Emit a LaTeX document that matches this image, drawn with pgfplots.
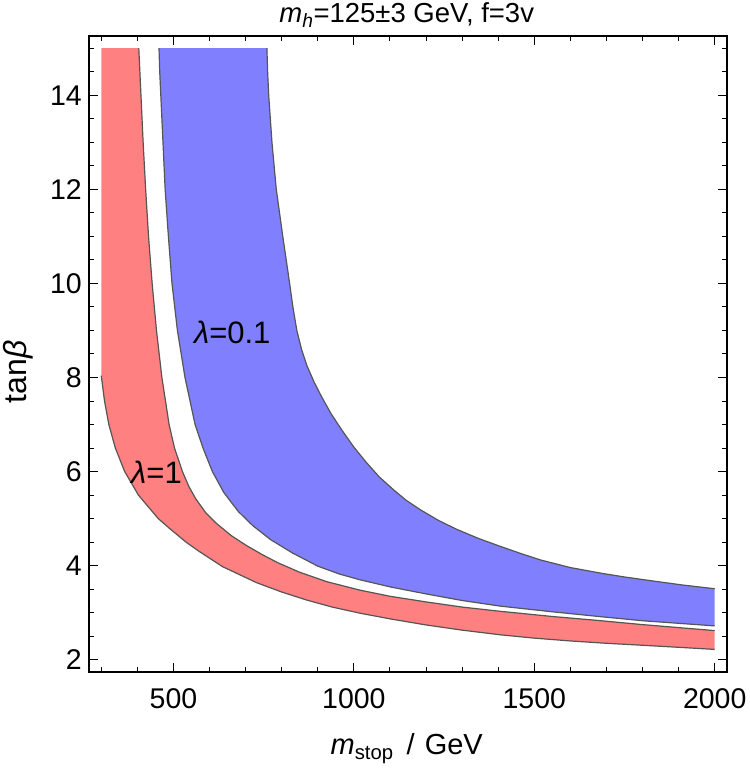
\documentclass[border=0pt]{standalone}
\usepackage{fontspec}
\setmainfont{Liberation Sans}
\usepackage{pgfplots}
\pgfplotsset{compat=1.18}
\definecolor{redfill}{RGB}{255,128,128}
\definecolor{bluefill}{RGB}{128,128,255}
\definecolor{edge}{RGB}{85,85,85}
\newcommand{\tickfont}{\fontsize{28.5bp}{32bp}\selectfont}
\newcommand{\labfont}{\fontsize{29bp}{32bp}\selectfont}
\begin{document}
\begin{tikzpicture}
\path[use as bounding box] (-89bp,-101bp) rectangle (661bp,672bp);
\begin{axis}[
  scale only axis, width=638bp, height=636bp,
  xmin=266, xmax=2034, ymin=1.74, ymax=15.26,
  xtick={500,1000,1500,2000}, ytick={2,4,...,14},
  minor xtick={300,400,...,2000}, minor ytick={2,2.5,...,15},
  tick align=inside, tick pos=both,
  major tick length=9bp, minor tick length=5bp,
  tick style={black, line width=1bp},
  axis line style={line width=1.5bp},
  ticklabel style={font=\tickfont},
  /pgf/number format/assume math mode=true,
  /pgf/number format/1000 sep={},
  xticklabel style={anchor=base, yshift=-36.5bp},
  yticklabel style={anchor=east, inner sep=0pt, xshift=-7bp},
  title={{\itshape m}\textsubscript{\itshape h}=125±3 GeV, f=3v},
  title style={at={(axis description cs:0.498,1.012)}, anchor=base, font=\fontsize{27.5bp}{30bp}\selectfont, inner sep=0pt},
  xlabel={{\itshape m}\textsubscript{stop}\hspace{5bp} / \hspace{2bp}GeV},
  xlabel style={at={(axis description cs:0.498,-0.1305)}, anchor=base, font=\labfont, inner sep=0pt},
  ylabel={tan{\itshape β}},
  ylabel style={at={(axis description cs:-0.111,0.472)}, anchor=center, font=\fontsize{32bp}{34bp}\selectfont, inner sep=0pt},
]
% red band (lambda = 1)
\addplot[fill=redfill, draw=none] coordinates {
 (300,15) (404,15) (407,14.5) (410,14) (416,13) (423,12) (431,11) (441,10) (453,9) (468,8)
 (488,7) (503,6.5) (525,6.0) (543,5.68) (562,5.42) (590,5.12) (619,4.9) (660,4.64)
 (702,4.43) (745,4.24) (790,4.06) (850,3.86) (925,3.66) (1017,3.48) (1100,3.35) (1200,3.23)
 (1300,3.12) (1406,3.03) (1550,2.92) (1685,2.83) (1796,2.75) (2000,2.62)
 (2000,2.22) (1900,2.265) (1796,2.31) (1700,2.35) (1600,2.40) (1500,2.46) (1406,2.53)
 (1300,2.63) (1200,2.74) (1100,2.87) (1017,2.99) (940,3.12) (869,3.27) (800,3.44) (730,3.64)
 (636,3.98) (572,4.30) (535,4.5) (488,4.8) (458,5.0) (403,5.5) (365,6.0) (339,6.5) (321,7.0)
 (309,7.5) (300,8.04)} -- cycle;
% blue band (lambda = 0.1)
\addplot[fill=bluefill, draw=none] coordinates {
 (460,15) (462,14.5) (465,14) (471,13) (477,12) (486,11) (496,10) (511,9) (532,8) (560,7)
 (582,6.5) (608,6.0) (640,5.55) (680,5.15) (720,4.85) (770,4.55) (830,4.27) (900,3.99)
 (961,3.82) (1017,3.70) (1100,3.55) (1200,3.40) (1300,3.26) (1406,3.14) (1550,3.02)
 (1685,2.915) (1800,2.83) (2000,2.72)
 (2000,3.51) (1910,3.59) (1824,3.68) (1750,3.76) (1685,3.84) (1600,3.96) (1518,4.12)
 (1462,4.26) (1406,4.41) (1345,4.58) (1286,4.77) (1235,4.96) (1184,5.19) (1145,5.39)
 (1109,5.62) (1070,5.89) (1035,6.19) (1000,6.52) (966,6.89) (936,7.24) (910,7.6) (890,7.9)
 (870,8.25) (855,8.6) (842,9.0) (831,9.5) (822,10) (803,11) (785,12) (773,13) (764,14)
 (761,14.5) (759,15)} -- cycle;
% boundary curves
\addplot[edge, line width=1.2bp] coordinates {
 (404,15) (407,14.5) (410,14) (416,13) (423,12) (431,11) (441,10) (453,9) (468,8)
 (488,7) (503,6.5) (525,6.0) (543,5.68) (562,5.42) (590,5.12) (619,4.9) (660,4.64)
 (702,4.43) (745,4.24) (790,4.06) (850,3.86) (925,3.66) (1017,3.48) (1100,3.35) (1200,3.23)
 (1300,3.12) (1406,3.03) (1550,2.92) (1685,2.83) (1796,2.75) (2000,2.62)};
\addplot[edge, line width=1.2bp] coordinates {
 (2000,2.22) (1900,2.265) (1796,2.31) (1700,2.35) (1600,2.40) (1500,2.46) (1406,2.53)
 (1300,2.63) (1200,2.74) (1100,2.87) (1017,2.99) (940,3.12) (869,3.27) (800,3.44) (730,3.64)
 (636,3.98) (572,4.30) (535,4.5) (488,4.8) (458,5.0) (403,5.5) (365,6.0) (339,6.5) (321,7.0)
 (309,7.5) (300,8.04)};
\addplot[edge, line width=1.2bp] coordinates {
 (460,15) (462,14.5) (465,14) (471,13) (477,12) (486,11) (496,10) (511,9) (532,8) (560,7)
 (582,6.5) (608,6.0) (640,5.55) (680,5.15) (720,4.85) (770,4.55) (830,4.27) (900,3.99)
 (961,3.82) (1017,3.70) (1100,3.55) (1200,3.40) (1300,3.26) (1406,3.14) (1550,3.02)
 (1685,2.915) (1800,2.83) (2000,2.72)};
\addplot[edge, line width=1.2bp] coordinates {
 (2000,3.51) (1910,3.59) (1824,3.68) (1750,3.76) (1685,3.84) (1600,3.96) (1518,4.12)
 (1462,4.26) (1406,4.41) (1345,4.58) (1286,4.77) (1235,4.96) (1184,5.19) (1145,5.39)
 (1109,5.62) (1070,5.89) (1035,6.19) (1000,6.52) (966,6.89) (936,7.24) (910,7.6) (890,7.9)
 (870,8.25) (855,8.6) (842,9.0) (831,9.5) (822,10) (803,11) (785,12) (773,13) (764,14)
 (761,14.5) (759,15)};
\node[font=\fontsize{31bp}{32bp}\selectfont] at (axis cs:663,8.96) {{\itshape λ}=0.1};
\node[font=\fontsize{31bp}{32bp}\selectfont] at (axis cs:453,5.99) {{\itshape λ}=1};
\end{axis}
\end{tikzpicture}
\end{document}
